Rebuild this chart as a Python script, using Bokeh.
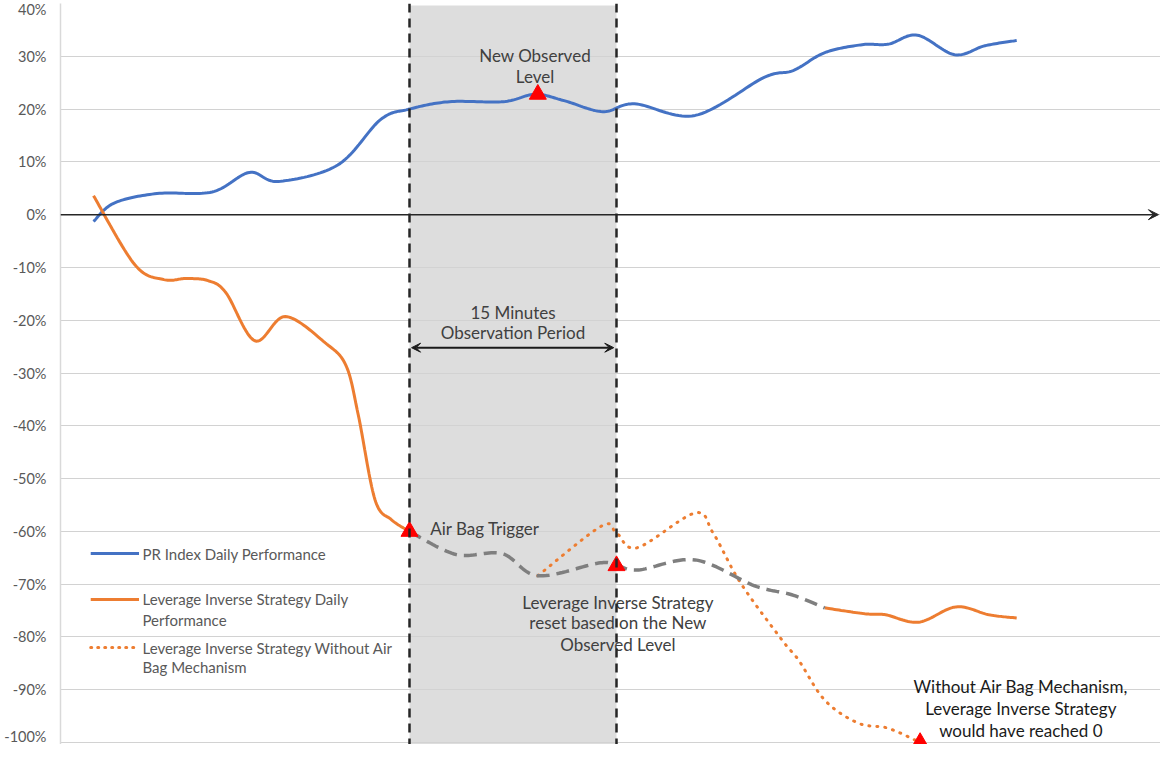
from bokeh.plotting import figure
from bokeh.models import Range1d, Arrow, VeeHead, Span, FixedTicker
from bokeh.core.properties import value
from bokeh.embed import file_html
from bokeh.resources import INLINE

# ---------------- data (x in minutes, y in %) ----------------
pr_x = [0.0, 1.5, 4.6, 8.6, 11.3, 13.4, 17.7, 20.8, 22.9, 25.8, 29.7, 32.0, 34.1, 36.9, 39.2,
        43.6, 48.6, 50.7, 53.0, 55.7, 57.6, 59.7, 62.4, 64.6, 66.9]
pr_y = [-1.3, 2.2, 4.0, 4.3, 8.0, 6.3, 9.4, 18.0, 20.0, 21.4, 21.4, 22.8, 21.6, 19.5, 21.0,
        18.8, 26.0, 27.3, 30.7, 32.2, 32.3, 34.0, 30.3, 32.0, 33.0]

lev1_x = [0.0, 3.0, 5.1, 6.7, 8.3, 9.6, 11.7, 13.9, 16.8, 18.3, 19.2, 20.4, 21.6, 22.9]
lev1_y = [3.6, -9.5, -12.3, -12.1, -12.5, -14.8, -23.9, -19.3, -24.3, -28.6, -38.1, -54.0, -57.8, -60.0]

reset_x = [22.9, 26.3, 29.6, 32.2, 36.6, 37.9, 39.5, 43.6, 47.9, 50.6, 53.0]
reset_y = [-60.0, -64.4, -64.2, -68.4, -66.0, -66.4, -67.3, -65.4, -70.3, -72.0, -74.5]

lev2_x = [53.0, 55.9, 57.4, 59.8, 62.5, 64.9, 66.9]
lev2_y = [-74.5, -75.6, -75.8, -77.2, -74.3, -75.8, -76.4]

noab_x = [32.2, 36.8, 37.9, 39.4, 43.6, 44.9, 46.9, 49.9, 51.1, 53.0, 55.4, 57.6, 59.9]
noab_y = [-68.4, -59.0, -60.3, -63.1, -56.5, -60.3, -69.8, -80.6, -84.4, -92.0, -96.3, -97.3, -100.0]

event_x = [22.9, 32.2, 37.9, 59.9]
event_y = [-60.0, 22.8, -66.5, -100.0]

window_start = 22.9
window_end = 37.9

y_ticks = list(range(-100, 50, 10))
y_labels = [f"{t}%" for t in y_ticks]

legend_labels = [["PR Index Daily Performance"],
                 ["Leverage Inverse Strategy Daily", "Performance"],
                 ["Leverage Inverse Strategy Without Air", "Bag Mechanism"]]

# ---------------- helpers ----------------
def smooth(xs, ys, steps=20):
    n = len(xs)
    ox, oy = [], []
    for i in range(n - 1):
        x0, y0 = xs[max(i - 1, 0)], ys[max(i - 1, 0)]
        x1, y1 = xs[i], ys[i]
        x2, y2 = xs[i + 1], ys[i + 1]
        x3, y3 = xs[min(i + 2, n - 1)], ys[min(i + 2, n - 1)]
        c1x, c1y = x1 + (x2 - x0) / 6.0, y1 + (y2 - y0) / 6.0
        c2x, c2y = x2 - (x3 - x1) / 6.0, y2 - (y3 - y1) / 6.0
        for k in range(steps):
            t = k / steps
            a, b, c, d = (1 - t) ** 3, 3 * t * (1 - t) ** 2, 3 * t * t * (1 - t), t ** 3
            ox.append(a * x1 + b * c1x + c * c2x + d * x2)
            oy.append(a * y1 + b * c1y + c * c2y + d * y2)
    ox.append(xs[-1])
    oy.append(ys[-1])
    return ox, oy

FONT = "Lato"
BLUE = "#4472C4"
ORANGE = "#ED7D31"
GRAY = "#7F7F7F"

X0, X1 = -2.39, 77.32
Y0, Y1 = -100.37, 40

p = figure(width=1160, height=744, output_backend="svg", toolbar_location=None,
           x_range=Range1d(X0, X1), y_range=Range1d(Y0, Y1), x_axis_location=None,
           min_border_left=60, min_border_right=0, min_border_top=3, min_border_bottom=0)
p.outline_line_color = None
p.background_fill_color = "white"
p.border_fill_color = "white"

p.xgrid.visible = False
p.ygrid.ticker = FixedTicker(ticks=y_ticks)
p.ygrid.grid_line_color = "#D2D2D2"
p.ygrid.grid_line_width = 1

yax = p.yaxis[0]
yax.ticker = FixedTicker(ticks=y_ticks)
yax.major_label_overrides = {t: lab for t, lab in zip(y_ticks, y_labels)}
yax.axis_line_color = "#D9D9D9"
yax.axis_line_width = 1.5
yax.major_tick_line_color = None
yax.minor_tick_line_color = None
yax.major_label_standoff = 8
yax.major_label_text_font = FONT
yax.major_label_text_font_size = "14.5px"
yax.major_label_text_color = "#595959"

# observation window shading (below grid)
p.quad(left=[window_start], right=[window_end], top=[39.6], bottom=[Y0],
       fill_color="#DDDDDD", line_color=None, level="image")

# vertical dashed window bounds
for xv in (window_start, window_end):
    p.add_layout(Span(location=xv, dimension="height", line_color="#262626",
                      line_width=2.5, line_dash="9 6"))

# zero axis with arrow
p.add_layout(Arrow(end=VeeHead(size=10, fill_color="#262626", line_color="#262626"),
                   x_start=X0, y_start=0, x_end=X1 - 0.15, y_end=0,
                   line_color="#262626", line_width=1.5))

# series
sx, sy = smooth(pr_x, pr_y)
p.line(sx, sy, line_color=BLUE, line_width=3)
sx, sy = smooth(lev1_x, lev1_y)
p.line(sx, sy, line_color=ORANGE, line_width=3)
sx, sy = smooth(lev2_x, lev2_y)
p.line(sx, sy, line_color=ORANGE, line_width=3)
sx, sy = smooth(noab_x, noab_y)
p.line(sx, sy, line_color=ORANGE, line_width=3, line_dash="1 7", line_cap="round")
sx, sy = smooth(reset_x, reset_y)
p.line(sx, sy, line_color=GRAY, line_width=3.5, line_dash="13 7")

# event markers
p.scatter(event_x, event_y, marker="triangle", size=17, fill_color="#FF0000", line_color="#FF0000")

# observation period double arrow
p.add_layout(Arrow(start=VeeHead(size=9, fill_color="#1a1a1a", line_color="#1a1a1a"),
                   end=VeeHead(size=9, fill_color="#1a1a1a", line_color="#1a1a1a"),
                   x_start=23.05, y_start=-25.2, x_end=37.7, y_end=-25.2,
                   line_color="#1a1a1a", line_width=2))

def txt(x, y, s, color="#404040", align="center", size="17px"):
    p.text(x=[x], y=[y], text=[s], text_font=value(FONT), text_font_size=size,
           text_color=color, text_align=align, text_baseline="middle")

txt(32.0, 30.15, "New Observed")
txt(32.0, 26.2, "Level")
txt(24.4, -59.45, "Air Bag Trigger", align="left")
txt(30.4, -18.5, "15 Minutes")
txt(30.4, -22.3, "Observation Period")
txt(38.0, -73.5, "Leverage Inverse Strategy")
txt(38.0, -77.3, "reset based on the New")
txt(38.0, -81.4, "Observed Level")
txt(67.2, -89.4, "Without Air Bag Mechanism,", color="#1a1a1a")
txt(67.2, -93.5, "Leverage Inverse Strategy", color="#1a1a1a")
txt(67.2, -97.7, "would have reached 0", color="#1a1a1a")

# legend (drawn manually, transparent like the reference)
leg_rows = [[-64.2], [-72.9, -76.7], [-82.0, -85.6]]
leg_styles = [dict(line_color=BLUE, line_width=3),
              dict(line_color=ORANGE, line_width=3),
              dict(line_color=ORANGE, line_width=3, line_dash="1 6", line_cap="round")]
for labels, ys, st in zip(legend_labels, leg_rows, leg_styles):
    p.line([-0.2, 3.3], [ys[0], ys[0]], **st)
    for lab, yy in zip(labels, ys):
        txt(3.55, yy, lab, color="#595959", align="left", size="15px")

open("out.html", "w").write(file_html(p, INLINE))
